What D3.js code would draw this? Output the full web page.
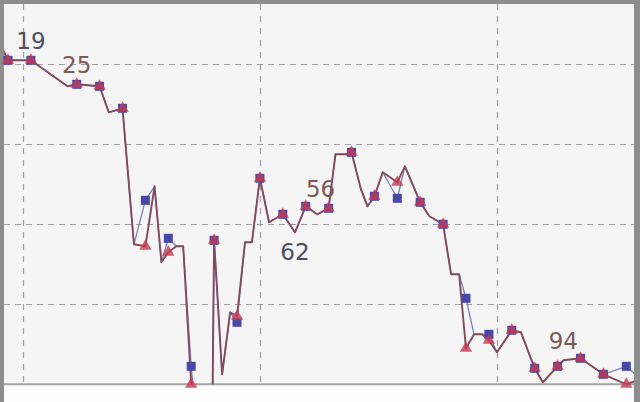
<!DOCTYPE html>
<html><head><meta charset="utf-8">
<script src="https://cdn.jsdelivr.net/npm/d3@7"></script>
<style>html,body{margin:0;padding:0;background:#fff;} svg{display:block}</style>
</head><body>
<svg id="c" width="640" height="402"></svg>
<script>
// ---- data (x = day offset, y = rank value; larger value is lower on chart) ----
const days = [-1.5, 0, 3, 7.8, 9, 12, 13.2, 15, 16.5, 18, 19.2, 20.1, 21, 22.05, 22.95, 24, 26.55, 27, 28.05, 29.1, 30, 31.05, 31.95, 33, 34.2, 36, 37.6, 39, 40.5, 42, 42.9, 44.1, 45, 46.2, 47.1, 48, 49.1, 51, 52, 54, 55.2, 57, 58.05, 59.1, 60, 61.05, 62.1, 63, 64.05, 66, 67.2, 69, 70.05, 72, 72.75, 75, 78, 81, 82.5];
const blueValues = [13, 19, 19, 25.5, 25, 25.5, 32, 31, 65, 54, 50.5, 69.5, 63.5, 65.5, 65.5, 95.5, 150, 64, 97.5, 82, 84.5, 64.5, 64.5, 48.5, 59.5, 57.5, 62, 55.5, 57.5, 56, 42.5, 42.5, 42, 51, 55.5, 53, 47, 53.5, 45.5, 54.5, 58, 60, 72.5, 72.5, 78.5, 87.5, 87.5, 87.5, 92, 86.5, 87, 96, 99.5, 95.5, 94, 93.5, 97.5, 95.5, 98];
const redValues  = [13, 19, 19, 25.5, 25, 25.5, 32, 31, 65, 65.5, 50.5, 69.5, 67, 65.5, 65.5, 100, 150, 64, 97.5, 82, 83, 64.5, 64.5, 48.5, 59.5, 57.5, 62, 55.5, 57.5, 56, 42.5, 42.5, 42, 51, 55.5, 53, 47, 49.5, 45.5, 54.5, 58, 60, 72.5, 72.5, 91, 87.5, 87.5, 89, 92, 86.5, 87, 96, 99.5, 95.5, 94, 93.5, 97.5, 100, 99];
const markerStep = 3;              // markers every 3rd day
const gridDays = [2, 33, 64];      // vertical grid (month starts)
const gridValues = [20, 40, 60, 80];
const labelSeries = ["blue", "red", "red", "blue", "red"];
const labelDays   = [3, 9, 42, 37.6, 72.75];
const labelPlace  = ["above", "above", "above", "below", "above"];

// ---- layout ----
const svg = d3.select("#c");
const P = {left: 4, top: 4, right: 634, bottom: 384};
const x = d3.scaleLinear().domain([0, 81]).range([8, 626.3]);
const y = d3.scaleLinear().domain([20, 100]).range([64.3, 384.3]);

const series = {
  blue: days.map((d, i) => ({day: d, v: blueValues[i]})),
  red:  days.map((d, i) => ({day: d, v: redValues[i]}))
};

// frame
svg.append("rect").attr("width", 640).attr("height", 402).attr("fill", "#8d8d8d");
svg.append("rect").attr("x", P.left).attr("y", P.top).attr("width", P.right - P.left)
  .attr("height", P.bottom - P.top).attr("fill", "#f5f5f5");
svg.append("rect").attr("x", P.left).attr("y", P.bottom).attr("width", P.right - P.left)
  .attr("height", 402 - P.bottom).attr("fill", "#fdfdfd");

// grid
const g = svg.append("g");
g.selectAll(".hg").data(gridValues).join("line")
  .attr("x1", P.left).attr("x2", P.right)
  .attr("y1", d => Math.round(y(d)) + 0.5).attr("y2", d => Math.round(y(d)) + 0.5)
  .attr("stroke", "#a0a0a0").attr("stroke-width", 1.2).attr("stroke-dasharray", "6,5");
g.selectAll(".vg").data(gridDays).join("line")
  .attr("y1", P.top).attr("y2", P.bottom)
  .attr("x1", d => Math.round(x(d)) + 0.5).attr("x2", d => Math.round(x(d)) + 0.5)
  .attr("stroke", "#a0a0a0").attr("stroke-width", 1.2).attr("stroke-dasharray", "6,6");

// baseline
svg.append("line").attr("x1", P.left).attr("x2", P.right)
  .attr("y1", y(100)).attr("y2", y(100)).attr("stroke", "#a3a3a3").attr("stroke-width", 2);

// clip for lines
svg.append("clipPath").attr("id", "clip").append("rect")
  .attr("x", P.left).attr("y", P.top).attr("width", P.right - P.left).attr("height", y(100) - P.top);

const line = d3.line().x(d => x(d.day)).y(d => y(d.v));
const lg = svg.append("g").attr("clip-path", "url(#clip)");
lg.append("path").attr("d", line(series.blue)).attr("fill", "none")
  .attr("stroke", "#7a80b4").attr("stroke-width", 1.3).attr("stroke-linejoin", "round");
lg.append("path").attr("d", line(series.red)).attr("fill", "none")
  .attr("stroke", "#84495f").attr("stroke-width", 1.9).attr("stroke-linejoin", "round");

// markers
const isMarker = d => Number.isInteger(d.day / markerStep) && d.day >= 0;
svg.append("g").selectAll("rect").data(series.blue.filter(isMarker)).join("rect")
  .attr("x", d => x(d.day) - 4.5).attr("y", d => y(d.v) - 4.5)
  .attr("width", 9).attr("height", 9).attr("fill", "#4848a8");
const tri = d3.symbol().type(d3.symbolTriangle).size(66);
svg.append("g").selectAll("path").data(series.red.filter(isMarker)).join("path")
  .attr("d", tri).attr("transform", d => `translate(${x(d.day)},${y(d.v)})`)
  .attr("fill", "#c83a50").attr("fill-opacity", 0.8);

// value labels
const labelColor = {blue: "#4b4f63", red: "#7d5a56"};
const labels = labelDays.map((d, i) => {
  const s = series[labelSeries[i]];
  const p = s.find(q => q.day === d);
  return {day: d, v: p.v, s: labelSeries[i], place: labelPlace[i]};
});
svg.append("g").selectAll("text").data(labels).join("text")
  .attr("x", d => x(d.day) + (d.v === 56 ? -8 : 0))
  .attr("y", d => y(d.v) + (d.place === "above" ? -11 : 28))
  .attr("text-anchor", "middle")
  .attr("font-family", "DejaVu Sans, Verdana, sans-serif")
  .attr("font-size", 23)
  .attr("fill", d => labelColor[d.s])
  .text(d => d3.format("d")(d.v));
</script>
</body></html>
